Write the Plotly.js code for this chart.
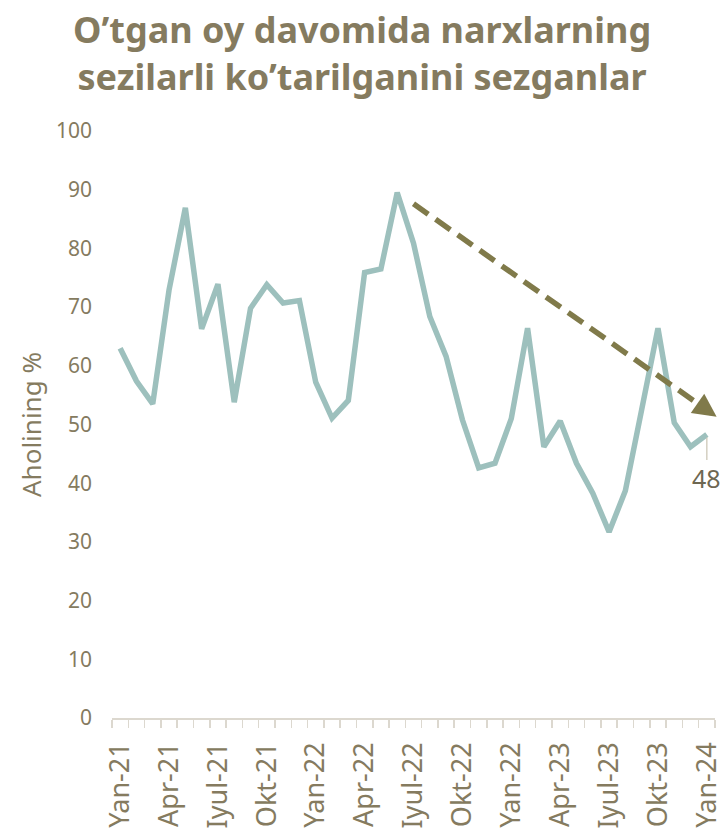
<!DOCTYPE html>
<html>
<head>
<meta charset="utf-8">
<script src="https://cdn.plot.ly/plotly-3.0.1.min.js"></script>
<style>html,body{margin:0;padding:0;background:#fff;}#chart{width:728px;height:831px;}</style>
</head>
<body>
<div id="chart"></div>
<script>
// Month labels (as printed in the source, including its repeated "Yan-22")
const months = [
  "Yan-21","Fev-21","Mar-21","Apr-21","May-21","Iyun-21","Iyul-21","Avg-21","Sen-21","Okt-21","Noy-21","Dek-21",
  "Yan-22","Fev-22","Mar-22","Apr-22","May-22","Iyun-22","Iyul-22","Avg-22","Sen-22","Okt-22","Noy-22","Dek-22",
  "Yan-22","Fev-23","Mar-23","Apr-23","May-23","Iyun-23","Iyul-23","Avg-23","Sen-23","Okt-23","Noy-23","Dek-23",
  "Yan-24"
];
// Share of population who felt a significant price rise (%)
const values = [
  63.0, 57.4, 53.5, 72.9, 86.9, 66.3, 73.9, 53.8, 69.8, 73.8, 70.7, 71.1,
  57.2, 51.1, 54.1, 75.9, 76.5, 89.5, 80.9, 68.4, 61.6, 50.8, 42.6, 43.4,
  51.0, 66.4, 46.2, 50.6, 43.4, 38.3, 31.7, 38.7, 52.5, 66.4, 50.3, 46.2,
  48.3
];
const yTicks = [0,10,20,30,40,50,60,70,80,90,100];
const lastLabel = "48";
const titleText = "<b>O’tgan oy davomida narxlarning<br>sezilarli ko’tarilganini sezganlar</b>";
// Trend arrow (category index, value)
const trendStart = [18.0, 87.6];
const trendEnd = [36.6, 51.3];

const idx = months.map((_, i) => i);
const labelIdx = idx.filter(i => i % 3 === 0);
const labelText = labelIdx.map(i => months[i]);

const textColor = "#857b5f";
const font = "Noto Sans, DejaVu Sans, sans-serif";

// dashed body ends a little before the arrow tip
const fr = 0.94;
const bodyEnd = [trendStart[0] + (trendEnd[0]-trendStart[0])*fr, trendStart[1] + (trendEnd[1]-trendStart[1])*fr];

const trace = {
  x: idx, y: values, type: "scatter", mode: "lines",
  line: {color: "#9dc0bd", width: 5.5, shape: "linear"},
  hoverinfo: "x+y", showlegend: false, cliponaxis: false
};

const layout = {
  width: 728, height: 831,
  margin: {l: 112, r: 13, t: 131, b: 113},
  paper_bgcolor: "#ffffff", plot_bgcolor: "#ffffff",
  xaxis: {
    range: [-0.5, 36.5], showgrid: false, zeroline: false,
    showline: true, linecolor: "#dcd8cf", linewidth: 1.5,
    tickmode: "array", tickvals: labelIdx, ticktext: labelText,
    ticks: "", tickangle: -90, ticklabelstandoff: 12,
    tickfont: {family: font, size: 27, color: textColor},
    minor: {tickmode: "linear", tick0: -0.5, dtick: 1, ticks: "outside", ticklen: 8, tickcolor: "#dcd8cf", tickwidth: 1.5, showgrid: false}
  },
  yaxis: {
    range: [0, 100], showgrid: false, zeroline: false, showline: false,
    tickmode: "array", tickvals: yTicks, ticks: "",
    tickfont: {family: font, size: 21, color: textColor},
    ticklabelstandoff: 19,
    title: {text: "Aholining %", font: {family: font, size: 26, color: textColor}, standoff: 6}
  },
  shapes: [{
    type: "line", xref: "x", yref: "y",
    x0: trendStart[0], y0: trendStart[1], x1: bodyEnd[0], y1: bodyEnd[1],
    line: {color: "#807a4a", width: 5.5, dash: "18px,9px"}
  }],
  annotations: [
    {
      xref: "paper", yref: "paper", x: 0.415, y: 1 + 78/587, xanchor: "center", yanchor: "middle",
      text: titleText, showarrow: false,
      font: {family: font, size: 36, color: textColor}
    },
    {
      x: trendEnd[0], y: trendEnd[1], xref: "x", yref: "y",
      axref: "x", ayref: "y", ax: bodyEnd[0], ay: bodyEnd[1],
      showarrow: true, arrowhead: 2, arrowsize: 0.85, arrowwidth: 5.5, arrowcolor: "#807a4a",
      text: ""
    },
    {
      x: idx[idx.length-1], y: values[values.length-1], xref: "x", yref: "y",
      text: lastLabel, showarrow: true, arrowhead: 0, arrowwidth: 1.2, arrowcolor: "#c9c3b2",
      ax: 0, ay: 44, standoff: 3,
      font: {family: font, size: 25, color: "#6e6751"}
    }
  ]
};

Plotly.newPlot("chart", [trace], layout, {displayModeBar: false, staticPlot: true});
</script>
</body>
</html>
